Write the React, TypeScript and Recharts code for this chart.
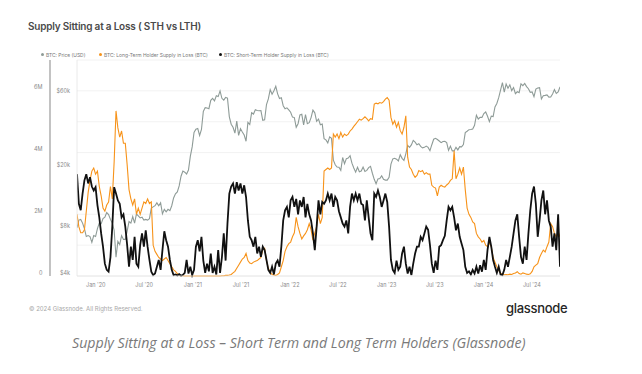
import React from 'react';
import { LineChart, Line, XAxis, YAxis, CartesianGrid } from 'recharts';

const startDate = '2019-10-22';
const WEEK_MS = 7 * 86400000;

const seriesNames = [
  'BTC: Price (USD)',
  'BTC: Long-Term Holder Supply in Loss (BTC)',
  'BTC: Short-Term Holder Supply in Loss (BTC)',
];
const seriesColors = ['#8e9b97', '#f7931a', '#111111'];

// weekly BTC price, $k
const priceUsdK = [
  8.2, 9.2, 9.3, 8.8, 8.1, 7.2, 7.3, 7.2, 6.6, 7.3,
  7.2, 8.1, 8.8, 8.7, 9.4, 9.6, 10.3, 10.0, 9.3, 8.8,
  7.9, 5.3, 6.7, 6.4, 7.3, 6.9, 6.9, 7.8, 9.0, 8.8,
  9.7, 8.8, 10.1, 9.8, 9.5, 9.6, 9.2, 9.3, 9.2, 9.4,
  11.0, 11.2, 11.4, 11.9, 11.4, 11.9, 10.1, 10.8, 10.4, 10.8,
  10.6, 11.4, 12.8, 13.6, 14.0, 15.3, 17.7, 19.1, 18.8, 18.3,
  19.4, 23.8, 27.4, 34.0, 35.6, 36.0, 32.5, 35.5, 46.5, 49.2,
  48.9, 48.4, 54.8, 56.4, 54.4, 58.7, 58.0, 63.1, 56.5, 55.0,
  57.2, 56.7, 42.9, 38.4, 36.7, 33.6, 40.2, 32.5, 35.9, 34.2,
  32.7, 29.8, 39.5, 38.2, 45.6, 44.7, 47.7, 47.1, 46.9, 47.1,
  40.7, 41.0, 51.5, 56.0, 64.3, 60.0, 63.3, 67.6, 60.4, 56.3,
  57.0, 50.6, 48.4, 49.0, 47.6, 45.9, 42.7, 42.4, 36.7, 38.7,
  44.1, 44.5, 38.0, 44.4, 38.7, 39.3, 42.4, 47.4, 45.5, 40.1,
  41.5, 38.1, 38.5, 31.0, 30.4, 29.1, 31.8, 31.1, 22.5, 21.0,
  20.3, 20.2, 19.3, 23.4, 21.3, 23.0, 23.2, 24.0, 21.5, 20.0,
  18.8, 20.2, 18.9, 19.1, 20.3, 19.0, 19.3, 20.1, 20.5, 18.5,
  16.9, 15.8, 17.0, 17.1, 17.8, 16.9, 16.7, 16.7, 17.4, 21.2,
  22.9, 23.1, 22.8, 22.2, 24.4, 23.1, 22.4, 24.7, 28.0, 27.2,
  28.2, 30.2, 29.4, 28.3, 28.7, 27.6, 27.0, 27.2, 27.7, 27.2,
  25.9, 28.3, 30.7, 31.1, 30.6, 29.9, 29.2, 29.7, 29.8, 29.2,
  26.0, 27.7, 25.8, 25.8, 27.2, 26.2, 27.5, 27.4, 28.4, 33.9,
  34.6, 35.4, 35.5, 35.8, 37.8, 43.9, 41.5, 42.6, 42.5, 45.0,
  46.1, 43.2, 39.9, 43.3, 43.0, 49.7, 52.3, 57.0, 63.8, 71.5,
  62.0, 70.0, 65.7, 69.1, 63.4, 66.4, 60.6, 62.3, 61.5, 70.1,
  68.3, 70.6, 67.3, 65.2, 61.8, 62.1, 57.9, 64.8, 65.9, 66.2,
  56.0, 58.7, 59.0, 59.4, 57.5, 57.6, 60.3, 64.3, 60.8, 62.2, 67.0,
];

// weekly long-term holder supply in loss, millions BTC
const lthSupplyM = [
  2.0, 1.6, 1.4, 1.4, 1.5, 2.1, 2.7, 3.1, 3.4, 3.5,
  3.3, 3.4, 2.9, 2.6, 2.2, 2.1, 2.3, 2.4, 2.9, 2.5,
  3.7, 5.35, 4.8, 4.5, 4.7, 4.3, 4.3, 3.6, 2.8, 2.5,
  2.3, 2.5, 2.0, 2.2, 2.0, 2.2, 2.4, 2.35, 2.5, 2.35,
  2.4, 1.0, 0.8, 0.7, 0.6, 0.55, 0.5, 0.55, 0.6, 0.5,
  0.4, 0.3, 0.2, 0.15, 0.08, 0.03, 0.01, 0.01, 0, 0,
  0, 0, 0, 0, 0, 0, 0, 0, 0, 0,
  0, 0, 0, 0, 0, 0, 0, 0, 0.01, 0.01,
  0.02, 0.02, 0.03, 0.05, 0.1, 0.15, 0.25, 0.35, 0.45, 0.55,
  0.6, 0.73, 0.5, 0.42, 0.4, 0.45, 0.48, 0.5, 0.55, 0.6,
  0.85, 0.9, 0.5, 0.25, 0.12, 0.05, 0.03, 0.02, 0.05, 0.1,
  0.3, 0.5, 0.8, 0.95, 1.05, 1.1, 1.27, 1.4, 1.9, 1.6,
  1.38, 1.2, 1.3, 1.38, 1.5, 1.7, 1.5, 1.16, 1.4, 1.6,
  2.0, 1.7, 1.9, 3.4, 3.45, 3.5, 3.45, 3.5, 4.6, 4.5,
  4.6, 4.45, 4.65, 4.5, 4.6, 4.55, 4.6, 4.7, 4.76, 4.85,
  4.92, 5.0, 5.08, 5.05, 5.1, 5.16, 5.1, 5.03, 5.1, 5.08,
  5.57, 5.6, 5.58, 5.62, 5.6, 5.65, 5.73, 5.78, 5.7, 5.14,
  4.92, 5.03, 4.82, 4.98, 4.71, 4.6, 4.82, 5.19, 3.85, 3.53,
  3.45, 3.3, 3.2, 3.26, 3.42, 3.38, 3.42, 3.3, 3.35, 3.3,
  3.3, 2.94, 2.88, 2.85, 2.6, 2.88, 2.94, 2.9, 2.88, 2.95,
  3.0, 3.1, 3.15, 4.06, 3.15, 3.3, 3.5, 3.3, 3.53, 2.8,
  2.2, 2.0, 1.9, 1.75, 1.7, 1.38, 1.27, 1.2, 1.1, 1.15,
  1.0, 0.95, 1.08, 0.95, 0.6, 0.45, 0.3, 0.18, 0.09, 0.05,
  0.04, 0.05, 0.04, 0.06, 0.05, 0.08, 0.1, 0.14, 0.08, 0.06,
  0.1, 0.08, 0.06, 0.05, 0.07, 0.15, 0.3, 0.35, 0.4, 0.6,
  0.73, 0.84, 0.78, 0.95, 1.1, 1.7, 1.6, 1.38, 1.27, 1.43, 1.27,
];

// weekly short-term holder supply in loss, millions BTC
const sthSupplyM = [
  3.3, 2.34, 2.13, 2.67, 3.1, 3.3, 3.0, 3.2, 2.9, 2.77,
  2.88, 2.3, 1.9, 1.38, 0.95, 0.4, 0.2, 0.14, 0.6, 1.6,
  2.88, 2.67, 2.45, 2.34, 1.9, 2.0, 1.6, 1.0, 0.3, 0.95,
  0.52, 1.27, 0.4, 0.3, 1.0, 1.38, 0.95, 1.48, 0.95, 0.52,
  0.14, 0.03, 0.08, 0.3, 0.52, 0.2, 0.84, 1.45, 1.16, 0.95,
  0.52, 0.2, 0.03, 0.05, 0.02, 0.06, 0.01, 0.04, 0.1, 0.52,
  0.08, 0.3, 0.03, 0.2, 0.95, 1.16, 0.8, 1.27, 0.5, 0.1,
  0.4, 0.15, 0.73, 0.1, 0.3, 0.05, 0.84, 0.1, 0.6, 1.38,
  0.5, 1.7, 2.67, 2.9, 3.0, 2.67, 3.04, 2.77, 3.0, 2.67,
  2.94, 2.56, 1.8, 1.27, 1.16, 0.95, 1.27, 0.73, 0.95, 0.62,
  0.95, 0.84, 0.52, 0.2, 0.1, 0.3, 0.05, 0.4, 0.5, 0.3,
  0.95, 1.8, 2.13, 2.24, 1.9, 2.45, 2.56, 2.24, 2.5, 2.0,
  2.45, 2.24, 2.56, 1.9, 2.34, 2.0, 1.8, 1.38, 0.84, 1.6,
  2.45, 2.0, 2.4, 2.34, 2.45, 2.67, 2.45, 2.67, 2.24, 2.56,
  2.45, 2.1, 1.9, 1.7, 1.6, 1.8, 1.38, 2.24, 2.67, 2.45,
  2.67, 2.45, 2.67, 2.34, 2.3, 1.8, 2.45, 1.9, 1.38, 1.16,
  2.67, 2.56, 2.77, 2.56, 2.24, 2.45, 2.67, 2.4, 1.6, 0.52,
  0.2, 0.1, 0.5, 0.2, 0.3, 0.73, 0.95, 0.4, 0.08, 0.3,
  0.03, 0.4, 0.73, 0.95, 0.95, 1.27, 1.16, 1.38, 1.6, 1.5,
  1.0, 0.4, 0.1, 0.5, 0.2, 0.95, 1.0, 1.16, 1.3, 1.8,
  2.24, 2.13, 2.24, 1.9, 1.48, 1.7, 1.27, 1.05, 0.84, 0.3,
  0.1, 0.15, 0.05, 0.2, 0.08, 0.3, 0.08, 0.35, 0.14, 0.52,
  0.2, 0.85, 1.27, 0.95, 0.52, 0.3, 0.1, 0.3, 0.05, 0.03,
  0.2, 0.52, 0.3, 0.62, 0.95, 1.38, 1.8, 2.0, 1.27, 0.62,
  0.4, 0.95, 0.52, 1.38, 2.13, 2.67, 2.9, 2.34, 1.27, 1.8,
  2.45, 2.77, 2.0, 2.45, 1.8, 1.6, 0.95, 1.38, 0.84, 2.0, 0.3,
];

const xTickDates = ['2020-01-01', '2020-07-01', '2021-01-01', '2021-07-01', '2022-01-01', '2022-07-01', '2023-01-01', '2023-07-01', '2024-01-01', '2024-07-01'];
const xTickLabels = ["Jan '20", "Jul '20", "Jan '21", "Jul '21", "Jan '22", "Jul '22", "Jan '23", "Jul '23", "Jan '24", "Jul '24"];

const supplyGridLines = [0, 1, 2, 3, 4, 5, 6, 7];
const supplyTickValues = [0, 2, 4, 6];
const supplyTickLabels = ['0', '2M', '4M', '6M'];

const priceTickValues = [4, 8, 20, 60];
const priceTickLabels = ['$4k', '$8k', '$20k', '$60k'];

const start = Date.parse(startDate);
const data = priceUsdK.map((p, i) => ({
  t: start + i * WEEK_MS,
  price: p,
  lth: lthSupplyM[i],
  sth: sthSupplyM[i],
}));
const xDomain = [data[0].t, data[data.length - 1].t];
const xTicks = xTickDates.map((d) => Date.parse(d));

const TICK_FONT = 'Inter, "Noto Sans", sans-serif';

const SupplyTick = (props: any) => {
  const { x, y, payload } = props;
  const idx = supplyTickValues.indexOf(payload.value);
  if (idx < 0) return null;
  return (
    <text x={x} y={y - 3} textAnchor="end" dominantBaseline="middle" fontSize={5.5} fill="#8a8a8a" fontFamily={TICK_FONT}>
      {supplyTickLabels[idx]}
    </text>
  );
};

const PriceTick = (props: any) => {
  const { x, y, payload } = props;
  const idx = priceTickValues.indexOf(payload.value);
  if (idx < 0) return null;
  return (
    <text x={x} y={y - 3} textAnchor="end" dominantBaseline="middle" fontSize={5.5} fill="#8a8a8a" fontFamily={TICK_FONT}>
      {priceTickLabels[idx]}
    </text>
  );
};

const XTick = (props: any) => {
  const { x, y, payload } = props;
  const idx = xTicks.indexOf(payload.value);
  return (
    <text x={x} y={y + 2} textAnchor="middle" dominantBaseline="middle" fontSize={5.5} fill="#8a8a8a" fontFamily={TICK_FONT}>
      {idx >= 0 ? xTickLabels[idx] : ''}
    </text>
  );
};

const legendX = [41, 99, 219];

export default function App() {
  return (
    <div style={{ position: 'absolute', left: 0, top: 0, width: 642, height: 374, background: '#ffffff', overflow: 'hidden' }}>
      <div style={{ position: 'absolute', left: 28, top: 20, fontFamily: 'Inter, "Noto Sans", sans-serif', fontWeight: 600, fontSize: 10, color: '#4a4a4a', whiteSpace: 'nowrap', letterSpacing: -0.2 }}>
        Supply Sitting at a Loss ( STH vs LTH)
      </div>
      {seriesNames.map((name, i) => (
        <div key={name} style={{ position: 'absolute', left: legendX[i], top: 51, height: 7, display: 'flex', alignItems: 'center', fontFamily: TICK_FONT, fontSize: 4.9, color: '#777', whiteSpace: 'nowrap' }}>
          <span style={{ display: 'inline-block', width: 3, height: 3, borderRadius: 2, background: seriesColors[i], marginRight: 2 }} />
          {name}
        </div>
      ))}
      <div style={{ position: 'absolute', left: 0, top: 0 }}>
        <LineChart width={642} height={374} data={data} margin={{ top: 60, right: 82, bottom: 78, left: 30 }}>
          <CartesianGrid yAxisId="supply" horizontal vertical={false} stroke="#efefef" strokeWidth={0.8} horizontalValues={supplyGridLines} />
          <XAxis
            dataKey="t"
            type="number"
            domain={xDomain}
            ticks={xTicks}
            interval={0}
            tick={<XTick />}
            tickLine={false}
            tickSize={0}
            tickMargin={7}
            height={20}
            axisLine={{ stroke: '#e4e4e4', strokeWidth: 0.8 }}
            allowDataOverflow
          />
          <YAxis
            yAxisId="price"
            orientation="left"
            scale="log"
            domain={[4, 100]}
            ticks={priceTickValues}
            interval={0}
            tick={<PriceTick />}
            tickLine={false}
            tickSize={0}
            tickMargin={7}
            width={27}
            axisLine={{ stroke: '#e4e4e4', strokeWidth: 0.8 }}
            allowDataOverflow
          />
          <YAxis
            yAxisId="supply"
            orientation="left"
            domain={[0, 7]}
            ticks={supplyGridLines}
            interval={0}
            tick={<SupplyTick />}
            tickLine={false}
            tickSize={0}
            tickMargin={7.5}
            width={20}
            axisLine={{ stroke: '#a9a9a9', strokeWidth: 1.4 }}
          />
          <Line yAxisId="price" dataKey="price" stroke={seriesColors[0]} strokeWidth={1.1} dot={false} isAnimationActive={false} />
          <Line yAxisId="supply" dataKey="lth" stroke={seriesColors[1]} strokeWidth={1.1} dot={false} isAnimationActive={false} />
          <Line yAxisId="supply" dataKey="sth" stroke={seriesColors[2]} strokeWidth={1.8} dot={false} isAnimationActive={false} />
        </LineChart>
      </div>
      <div style={{ position: 'absolute', left: 29, top: 305, fontFamily: TICK_FONT, fontSize: 6, color: '#a8a8a8', whiteSpace: 'nowrap' }}>
        © 2024 Glassnode. All Rights Reserved.
      </div>
      <div style={{ position: 'absolute', left: 506, top: 300, fontFamily: 'Inter, "Noto Sans", sans-serif', fontWeight: 500, fontSize: 13, color: '#262626', whiteSpace: 'nowrap', letterSpacing: -0.3 }}>
        glassnode
      </div>
      <div style={{ position: 'absolute', left: 72, top: 333, fontFamily: '"Open Sans", sans-serif', fontStyle: 'italic', fontSize: 14.2, color: '#7a7a7a', whiteSpace: 'nowrap' }}>
        Supply Sitting at a Loss – Short Term and Long Term Holders (Glassnode)
      </div>
    </div>
  );
}
